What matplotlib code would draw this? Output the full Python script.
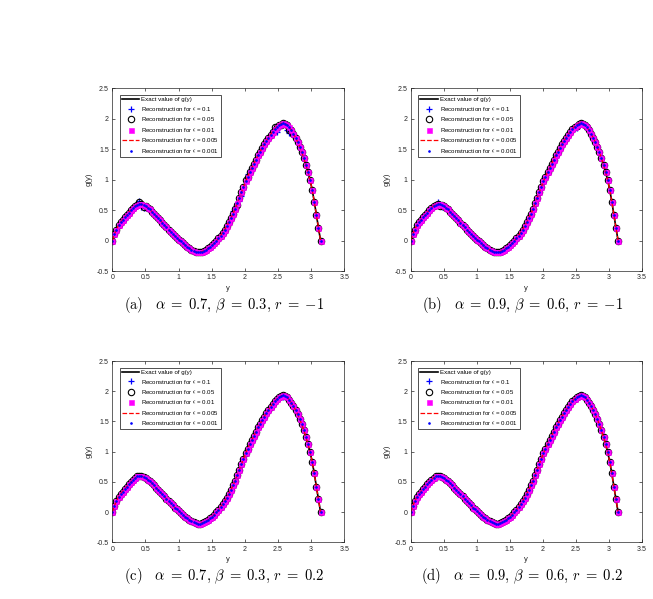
import matplotlib
matplotlib.use("Agg")
import matplotlib.pyplot as plt
import numpy as np

plt.rcParams["font.family"] = ["Liberation Sans", "DejaVu Sans"]
plt.rcParams["mathtext.fontset"] = "cm"

# sample points y_k on [0, pi]
y_nodes = [
    0.000, 0.031, 0.063, 0.094, 0.126, 0.157, 0.188, 0.220, 0.251, 0.283,
    0.314, 0.346, 0.377, 0.408, 0.440, 0.471, 0.503, 0.534, 0.565, 0.597,
    0.628, 0.660, 0.691, 0.723, 0.754, 0.785, 0.817, 0.848, 0.880, 0.911,
    0.942, 0.974, 1.005, 1.037, 1.068, 1.100, 1.131, 1.162, 1.194, 1.225,
    1.257, 1.288, 1.319, 1.351, 1.382, 1.414, 1.445, 1.477, 1.508, 1.539,
    1.571, 1.602, 1.634, 1.665, 1.696, 1.728, 1.759, 1.791, 1.822, 1.854,
    1.885, 1.916, 1.948, 1.979, 2.011, 2.042, 2.073, 2.105, 2.136, 2.168,
    2.199, 2.231, 2.262, 2.293, 2.325, 2.356, 2.388, 2.419, 2.450, 2.482,
    2.513, 2.545, 2.576, 2.608, 2.639, 2.670, 2.702, 2.733, 2.765, 2.796,
    2.827, 2.859, 2.890, 2.922, 2.953, 2.985, 3.016, 3.047, 3.079, 3.110,
    3.142,
]

# exact g(y)
g_exact = [
    0.00, 0.10, 0.18, 0.25, 0.30, 0.34, 0.38, 0.42, 0.46, 0.50,
    0.535, 0.565, 0.59, 0.60, 0.595, 0.58, 0.56, 0.535, 0.51, 0.475,
    0.44, 0.405, 0.37, 0.335, 0.295, 0.26, 0.22, 0.18, 0.145, 0.11,
    0.075, 0.045, 0.015, -0.015, -0.045, -0.075, -0.10, -0.125, -0.15, -0.17,
    -0.185, -0.19, -0.19, -0.18, -0.17, -0.15, -0.13, -0.105, -0.075, -0.04,
    -0.005, 0.035, 0.08, 0.13, 0.18, 0.24, 0.30, 0.37, 0.44, 0.52,
    0.61, 0.70, 0.79, 0.88, 0.97, 1.05, 1.12, 1.19, 1.26, 1.33,
    1.40, 1.46, 1.52, 1.58, 1.64, 1.69, 1.74, 1.79, 1.83, 1.87,
    1.90, 1.92, 1.93, 1.92, 1.90, 1.86, 1.81, 1.75, 1.69, 1.62,
    1.54, 1.45, 1.35, 1.24, 1.12, 0.99, 0.83, 0.64, 0.42, 0.21,
    0.00,
]

# visible departures of the noisy reconstructions (index into y_nodes, offset)
a_idx_01 = [12, 13, 14, 15, 16, 58, 59, 61, 62, 63, 65, 66, 77, 78, 79, 80, 84, 85, 86]
a_off_01 = [0.03, 0.05, -0.04, -0.05, -0.02, 0.04, 0.03, -0.05, -0.06, -0.04,
            0.05, 0.04, 0.03, 0.02, -0.08, -0.05, -0.09, -0.10, -0.04]
a_idx_005 = [13, 15, 60, 64, 78, 81, 85]
a_off_005 = [0.03, -0.03, -0.03, 0.03, 0.03, -0.03, -0.04]

b_idx_01 = [13, 15, 79, 80, 81, 84]
b_off_01 = [0.03, -0.03, -0.03, -0.05, -0.04, -0.03]
b_idx_005 = [14, 80]
b_off_005 = [-0.02, -0.02]

c_idx_01 = [82]
c_off_01 = [-0.02]
d_idx_01 = []
d_off_01 = []

captions = [
    r"$\mathrm{(a)}\quad\alpha\;=\;0.7,\,\beta\;=\;0.3,\,r\;=\;{-1}$",
    r"$\mathrm{(b)}\quad\alpha\;=\;0.9,\,\beta\;=\;0.6,\,r\;=\;{-1}$",
    r"$\mathrm{(c)}\quad\alpha\;=\;0.7,\,\beta\;=\;0.3,\,r\;=\;0.2$",
    r"$\mathrm{(d)}\quad\alpha\;=\;0.9,\,\beta\;=\;0.6,\,r\;=\;0.2$",
]
eps_labels = ["0.1", "0.05", "0.01", "0.005", "0.001"]


def perturbed(idx, off):
    vals = np.array(g_exact, dtype=float)
    vals[idx] += off
    return vals


W, H = 653, 599
fig = plt.figure(figsize=(W / 100, H / 100), dpi=100)

# axes boxes in pixels: left, top, right, bottom
boxes = [
    (112.3, 88.3, 344.3, 271.0),
    (410.7, 88.3, 641.7, 271.0),
    (112.3, 361.0, 344.3, 542.3),
    (410.7, 361.0, 641.7, 542.3),
]
noise = [
    ((a_idx_01, a_off_01), (a_idx_005, a_off_005)),
    ((b_idx_01, b_off_01), (b_idx_005, b_off_005)),
    ((c_idx_01, c_off_01), ([], [])),
    ((d_idx_01, d_off_01), ([], [])),
]

for (l, t, r, b), cap, (n1, n2) in zip(boxes, captions, noise):
    ax = fig.add_axes([l / W, 1 - b / H, (r - l) / W, (b - t) / H])
    x = y_nodes
    ax.plot(x, g_exact, "k-", lw=1.2, label="Exact value of g(y)")
    ax.plot(x, perturbed(*n1), "+", color="#0000ff", ms=5, mew=0.9,
            label=r"Reconstruction for $\epsilon$ = " + eps_labels[0])
    ax.plot(x, perturbed(*n2), "o", color="black", ms=4.6, mfc="none", mew=0.8,
            label=r"Reconstruction for $\epsilon$ = " + eps_labels[1])
    ax.plot(x, g_exact, "s", color="#ff00ff", mfc="#ff00ff", ms=3.6, mew=0.4,
            label=r"Reconstruction for $\epsilon$ = " + eps_labels[2])
    ax.plot(x, g_exact, "--", color="#ff0000", lw=0.9,
            label=r"Reconstruction for $\epsilon$ = " + eps_labels[3])
    ax.plot(x, g_exact, ".", color="#0000ff", ms=1.8,
            label=r"Reconstruction for $\epsilon$ = " + eps_labels[4])

    ax.set_xlim(0, 3.5)
    ax.set_ylim(-0.5, 2.5)
    ax.set_xticks(np.arange(0, 3.51, 0.5))
    ax.set_xticklabels(["0", "0.5", "1", "1.5", "2", "2.5", "3", "3.5"])
    ax.set_yticks(np.arange(-0.5, 2.51, 0.5))
    ax.set_yticklabels(["-0.5", "0", "0.5", "1", "1.5", "2", "2.5"])
    ax.tick_params(direction="in", length=2.2, width=0.5, labelsize=5,
                   top=True, right=True, pad=2.5, colors="#262626")
    for s in ax.spines.values():
        s.set_linewidth(0.5)
        s.set_color("#262626")
    ax.set_xlabel("y", fontsize=5.5, labelpad=2.5, color="#262626")
    ax.set_ylabel("g(y)", fontsize=5.5, labelpad=3, color="#262626")

    leg = ax.legend(loc="upper left", bbox_to_anchor=(0.033, 0.963),
                    fontsize=4.4, frameon=True, fancybox=False,
                    edgecolor="black", borderpad=0.35, labelspacing=0.4,
                    handlelength=2.8, handletextpad=0.35, borderaxespad=0)
    leg.get_frame().set_linewidth(0.6)

    cx = (l + r) / 2 - 4
    fig.text(cx / W, 1 - (b + 34) / H, cap, fontsize=10.5,
             ha="center", va="center")

fig.savefig("out.png", dpi=100)
